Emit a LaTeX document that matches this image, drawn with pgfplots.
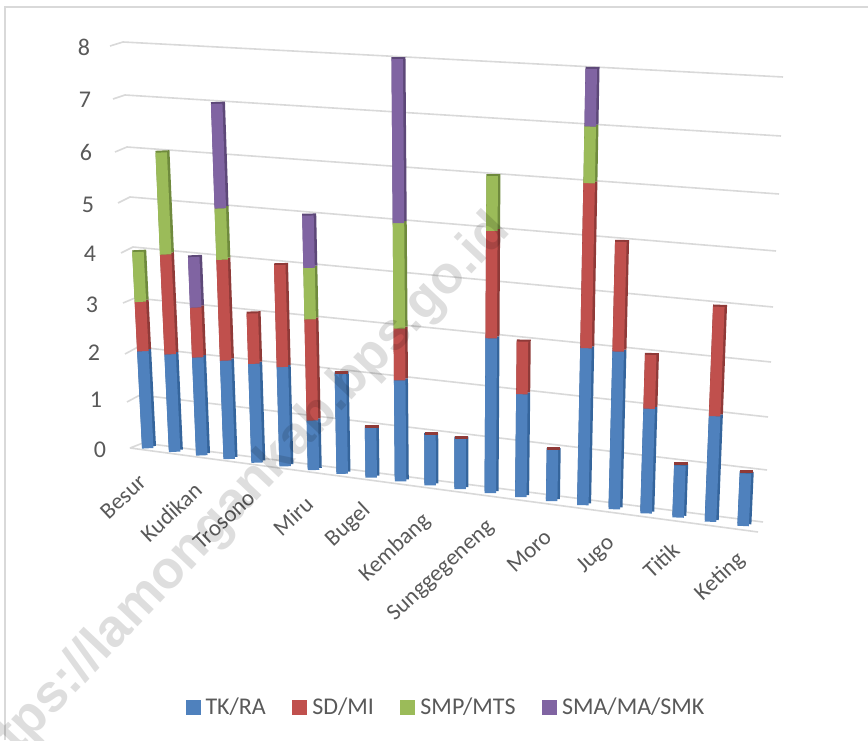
\documentclass[border=0pt]{standalone}
\usepackage{fontspec}
\setmainfont{Carlito}
\newfontfamily\wmfont{Liberation Sans}
\usepackage{pgfplots}
\usepackage{pgfplotstable}
\pgfplotsset{compat=1.18}

\definecolor{tkc}{HTML}{4F81BD}
\definecolor{sdc}{HTML}{C0504D}
\definecolor{smpc}{HTML}{9BBB59}
\definecolor{smac}{HTML}{8064A2}
\definecolor{tkd}{HTML}{35659C}
\definecolor{sdd}{HTML}{8F3A38}
\definecolor{smpd}{HTML}{6F8A3D}
\definecolor{smad}{HTML}{5D4878}
\definecolor{gridc}{HTML}{D9D9D9}
\definecolor{textc}{HTML}{595959}

% bar = position along the axis, v = stacked level; nan row = gap between segments
\pgfplotstableread[row sep=\\]{
bar v\\
0 0\\ 0 2\\ nan nan\\
1 0\\ 1 2\\ nan nan\\
2 0\\ 2 2\\ nan nan\\
3 0\\ 3 2\\ nan nan\\
4 0\\ 4 2\\ nan nan\\
5 0\\ 5 2\\ nan nan\\
6 0\\ 6 1\\ nan nan\\
7 0\\ 7 2\\ nan nan\\
8 0\\ 8 1\\ nan nan\\
9 0\\ 9 2\\ nan nan\\
10 0\\ 10 1\\ nan nan\\
11 0\\ 11 1\\ nan nan\\
12 0\\ 12 3\\ nan nan\\
13 0\\ 13 2\\ nan nan\\
14 0\\ 14 1\\ nan nan\\
15 0\\ 15 3\\ nan nan\\
16 0\\ 16 3\\ nan nan\\
17 0\\ 17 2\\ nan nan\\
18 0\\ 18 1\\ nan nan\\
19 0\\ 19 2\\ nan nan\\
20 0\\ 20 1\\
}\tktable
\pgfplotstableread[row sep=\\]{
bar v\\
0 2\\ 0 3\\ nan nan\\
1 2\\ 1 4\\ nan nan\\
2 2\\ 2 3\\ nan nan\\
3 2\\ 3 4\\ nan nan\\
4 2\\ 4 3\\ nan nan\\
5 2\\ 5 4\\ nan nan\\
6 1\\ 6 3\\ nan nan\\
9 2\\ 9 3\\ nan nan\\
12 3\\ 12 5\\ nan nan\\
13 2\\ 13 3\\ nan nan\\
15 3\\ 15 6\\ nan nan\\
16 3\\ 16 5\\ nan nan\\
17 2\\ 17 3\\ nan nan\\
19 2\\ 19 4\\
}\sdtable
\pgfplotstableread[row sep=\\]{
bar v\\
0 3\\ 0 4\\ nan nan\\
1 4\\ 1 6\\ nan nan\\
3 4\\ 3 5\\ nan nan\\
6 3\\ 6 4\\ nan nan\\
9 3\\ 9 5\\ nan nan\\
12 5\\ 12 6\\ nan nan\\
15 6\\ 15 7\\
}\smptable
\pgfplotstableread[row sep=\\]{
bar v\\
2 3\\ 2 4\\ nan nan\\
3 5\\ 3 7\\ nan nan\\
6 4\\ 6 5\\ nan nan\\
9 5\\ 9 8\\ nan nan\\
15 7\\ 15 8\\
}\smatable
% bars with no SD/MI still show its red lid
\pgfplotstableread[row sep=\\]{
bar v\\
7 2\\ 8 1\\ 10 1\\ 11 1\\ 14 1\\ 18 1\\ 20 1\\
}\lidtable
% gridlines in picture pixels
\pgfplotstableread[row sep=\\]{
px py\\
130 448\\ 143 443\\ 763 522\\ nan nan\\
130 448\\ 758 532\\ nan nan\\
127 402\\ 140 395\\ 767 470\\ nan nan\\
125 354\\ 138 347\\ 768 417\\ nan nan\\
123 303\\ 135 298\\ 771 362\\ nan nan\\
121 253\\ 133 247\\ 773 307\\ nan nan\\
118 203\\ 130 197\\ 776 251\\ nan nan\\
115 152\\ 127 147\\ 779 194\\ nan nan\\
113 99\\ 125 95\\ 781 136\\ nan nan\\
110 46\\ 123 42\\ 783 77\\
}\gridtable

\pgfplotsset{
  dark/.style={forget plot, line width=14pt, line cap=butt},
  front/.style={line width=11.5pt, line cap=butt},
}

\begin{document}
\begin{tikzpicture}
\clip (0,0) rectangle (868pt,740pt);
\begin{axis}[
  scale only axis, width=868pt, height=740pt,
  xmin=0, xmax=868, ymin=0, ymax=740,
  hide axis,
  unbounded coords=jump,
  % projected (perspective) position of level v on bar i
  declare function={
    xb(\i)=149+26.71*\i+0.153*\i*\i;
    X(\i,\v)=xb(\i)+(xb(\i)-453)*0.00806*\v;
    Y(\i,\v)=740-(448.3+3.515*\i+0.0185*\i*\i)+(48+0.2*\i)*\v+(0.27+0.0115*\i)*\v*\v;
  },
  legend columns=-1,
  legend style={
    at={(axis cs:186,33)}, anchor=west, draw=none, fill=none,
    font=\fontsize{24}{26}\selectfont, text=textc, inner sep=0pt, outer sep=0pt,
    /tikz/every odd column/.append style={column sep=3.5pt},
    /tikz/every even column/.append style={column sep=25pt},
  },
  legend image code/.code={
    \fill[#1, line width=0pt] (0pt,-7pt) rectangle (14pt,7pt);
  },
]
% frame
\addplot[gridc, line width=1.2pt, forget plot] coordinates {(5,0) (5,733) (868,733)};
% gridlines
\addplot[gridc, line width=1.6pt, forget plot] table[x=px, y expr=740-\thisrow{py}] {\gridtable};

% side and lid of the bars
\addplot[tkd, dark] table[x expr={X(\thisrow{bar},\thisrow{v})}, y expr={Y(\thisrow{bar},\thisrow{v})+2}] {\tktable};
\addplot[sdd, dark] table[x expr={X(\thisrow{bar},\thisrow{v})}, y expr={Y(\thisrow{bar},\thisrow{v})+2}] {\sdtable};
\addplot[smpd, dark] table[x expr={X(\thisrow{bar},\thisrow{v})}, y expr={Y(\thisrow{bar},\thisrow{v})+2}] {\smptable};
\addplot[smad, dark] table[x expr={X(\thisrow{bar},\thisrow{v})}, y expr={Y(\thisrow{bar},\thisrow{v})+2}] {\smatable};
\addplot[only marks, mark=-, mark size=6.7pt, forget plot, mark options={draw=sdd, line width=3pt}]
  table[x expr={X(\thisrow{bar},\thisrow{v})}, y expr={Y(\thisrow{bar},\thisrow{v})+1.5}] {\lidtable};

% front faces
\addplot[tkc, front] table[x expr={X(\thisrow{bar},\thisrow{v})-1.25}, y expr={Y(\thisrow{bar},\thisrow{v})}] {\tktable};
\addlegendentry{TK/RA}
\addplot[sdc, front] table[x expr={X(\thisrow{bar},\thisrow{v})-1.25}, y expr={Y(\thisrow{bar},\thisrow{v})}] {\sdtable};
\addlegendentry{SD/MI}
\addplot[smpc, front] table[x expr={X(\thisrow{bar},\thisrow{v})-1.25}, y expr={Y(\thisrow{bar},\thisrow{v})}] {\smptable};
\addlegendentry{SMP/MTS}
\addplot[smac, front] table[x expr={X(\thisrow{bar},\thisrow{v})-1.25}, y expr={Y(\thisrow{bar},\thisrow{v})}] {\smatable};
\addlegendentry{SMA/MA/SMK}

% value labels
\node[text=textc, font=\fontsize{24}{26}\selectfont] at (axis cs:84,693) {8};
\node[text=textc, font=\fontsize{24}{26}\selectfont] at (axis cs:85,640) {7};
\node[text=textc, font=\fontsize{24}{26}\selectfont] at (axis cs:86,588) {6};
\node[text=textc, font=\fontsize{24}{26}\selectfont] at (axis cs:88,535) {5};
\node[text=textc, font=\fontsize{24}{26}\selectfont] at (axis cs:90,486) {4};
\node[text=textc, font=\fontsize{24}{26}\selectfont] at (axis cs:92,435) {3};
\node[text=textc, font=\fontsize{24}{26}\selectfont] at (axis cs:94,387) {2};
\node[text=textc, font=\fontsize{24}{26}\selectfont] at (axis cs:96,340) {1};
\node[text=textc, font=\fontsize{24}{26}\selectfont] at (axis cs:100,290) {0};

% category labels
\node[text=textc, rotate=43, font=\fontsize{23}{26}\selectfont] at (axis cs:123,243) {Besur};
\node[text=textc, rotate=43, font=\fontsize{23}{26}\selectfont] at (axis cs:171,228) {Kudikan};
\node[text=textc, rotate=43, font=\fontsize{23}{26}\selectfont] at (axis cs:224,220) {Trosono};
\node[text=textc, rotate=43, font=\fontsize{23}{26}\selectfont] at (axis cs:293,224) {Miru};
\node[text=textc, rotate=43, font=\fontsize{23}{26}\selectfont] at (axis cs:348,215) {Bugel};
\node[text=textc, rotate=43, font=\fontsize{23}{26}\selectfont] at (axis cs:395,192) {Kembang};
\node[text=textc, rotate=43, font=\fontsize{23}{26}\selectfont] at (axis cs:441,169) {Sunggegeneng};
\node[text=textc, rotate=43, font=\fontsize{23}{26}\selectfont] at (axis cs:529,189) {Moro};
\node[text=textc, rotate=43, font=\fontsize{23}{26}\selectfont] at (axis cs:596,185) {Jugo};
\node[text=textc, rotate=43, font=\fontsize{23}{26}\selectfont] at (axis cs:661,180) {Titik};
\node[text=textc, rotate=43, font=\fontsize{23}{26}\selectfont] at (axis cs:720,163) {Keting};

% watermark
\node[rotate=46.6, anchor=east, text=black, text opacity=0.13, font=\wmfont\bfseries\fontsize{53}{58}\selectfont]
  at (axis cs:504,520) {https://lamongankab.bps.go.id};
\end{axis}
\end{tikzpicture}
\end{document}
